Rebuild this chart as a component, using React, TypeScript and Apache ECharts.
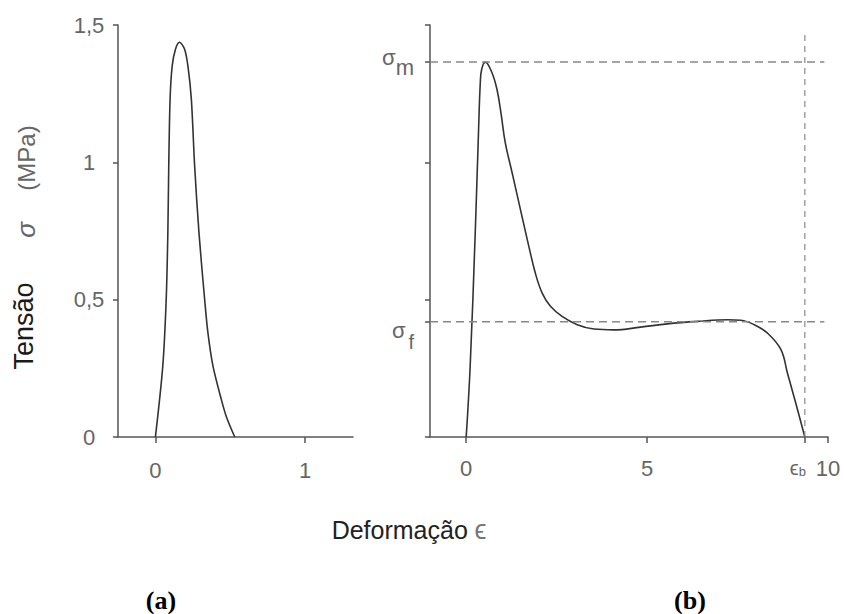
import React, { useEffect, useRef } from "react";
import * as echarts from "echarts";

// Panel (a): stress-strain curve
const A_STRAIN = [0, 0.049, 0.072, 0.083, 0.089, 0.098, 0.112, 0.134, 0.161, 0.195, 0.217, 0.24, 0.262, 0.291, 0.329, 0.351, 0.385, 0.441, 0.474, 0.53];
const A_STRESS = [0, 0.257, 0.5, 0.743, 0.987, 1.23, 1.351, 1.412, 1.437, 1.412, 1.351, 1.23, 0.987, 0.743, 0.5, 0.378, 0.257, 0.135, 0.074, 0];

// Panel (b): stress-strain curve
const B_STRAIN = [0, 0.11, 0.25, 0.34, 0.39, 0.43, 0.53, 0.71, 0.85, 0.96, 1.08, 1.27, 1.5, 1.73, 1.91, 2.1, 2.33, 2.65, 3.07, 3.53, 4.08, 4.82, 5.56, 6.39, 7.22, 7.59, 7.96, 8.33, 8.7, 8.88, 9.11, 9.36];
const B_STRESS = [0, 0.257, 0.743, 1.108, 1.29, 1.34, 1.365, 1.327, 1.266, 1.181, 1.072, 0.962, 0.828, 0.695, 0.597, 0.524, 0.476, 0.439, 0.409, 0.393, 0.39, 0.4, 0.412, 0.421, 0.427, 0.425, 0.409, 0.378, 0.318, 0.232, 0.123, 0];

const SIGMA_M = 1.365;
const SIGMA_F = 0.42;
const EPS_B = 9.36;

const A_X_TICKS = [0, 1];
const B_X_TICKS = [0, 5, EPS_B, 10];

const FONT = "'Liberation Sans', Arial, sans-serif";
const AXIS_COLOR = "#555";
const LABEL_COLOR = "#666";

export default function App() {
  const ref = useRef<HTMLDivElement>(null);
  useEffect(() => {
    if (!ref.current) return;
    const chart = echarts.init(ref.current, null, { renderer: "svg" });
    const axisLine = { show: true, onZero: false, lineStyle: { color: AXIS_COLOR, width: 1.5 } };
    const tickStyle = { color: AXIS_COLOR, width: 1.5 };
    const zip = (xs: number[], ys: number[]) => xs.map((x, i) => [x, ys[i]]);
    chart.setOption({
      animation: false,
      backgroundColor: "#fff",
      grid: [
        { left: 118, top: 25, width: 235, height: 412 },
        { left: 430, top: 25, width: 398, height: 412 },
      ],
      xAxis: [
        {
          gridIndex: 0, type: "value", min: -0.25, max: 1.32,
          splitLine: { show: false }, axisLine,
          axisTick: { customValues: A_X_TICKS, length: 6, lineStyle: tickStyle },
          axisLabel: { customValues: A_X_TICKS, margin: 22, fontSize: 22, color: LABEL_COLOR, fontFamily: FONT },
        },
        {
          gridIndex: 1, type: "value", min: -1, max: 10,
          splitLine: { show: false }, axisLine,
          axisTick: { customValues: B_X_TICKS, length: 6, lineStyle: tickStyle },
          axisLabel: {
            customValues: B_X_TICKS, margin: 20, fontSize: 22, color: LABEL_COLOR, fontFamily: FONT,
            formatter: (v: number) => (Math.abs(v - EPS_B) < 1e-6 ? "{e|ϵ}{b|b}" : String(v)),
            rich: {
              e: { fontSize: 20, color: LABEL_COLOR, fontFamily: FONT },
              b: { fontSize: 13, color: LABEL_COLOR, fontFamily: FONT, padding: [8, 14, 0, 0] },
            },
          },
        },
      ],
      yAxis: [
        {
          gridIndex: 0, type: "value", min: 0, max: 1.5, interval: 0.5,
          splitLine: { show: false }, axisLine,
          axisTick: { show: true, length: 5, lineStyle: tickStyle },
          axisLabel: {
            margin: 29, align: "center", fontSize: 22, color: LABEL_COLOR, fontFamily: FONT,
            formatter: (v: number) => String(v).replace(".", ","),
          },
        },
        {
          gridIndex: 1, type: "value", min: 0, max: 1.5,
          splitLine: { show: false }, axisLine,
          axisTick: { customValues: [0, 0.5, 1, 1.5, SIGMA_F, SIGMA_M], length: 5, lineStyle: tickStyle },
          axisLabel: {
            customValues: [SIGMA_F, SIGMA_M], margin: 16, align: "right", color: LABEL_COLOR, fontFamily: FONT,
            formatter: (v: number) => (Math.abs(v - SIGMA_M) < 1e-6 ? "{s|σ}{m|m}" : "{s2|σ}{f|f}"),
            rich: {
              s: { fontSize: 22, color: LABEL_COLOR, fontFamily: FONT, verticalAlign: "top", padding: [0, 0, 0, 0] },
              m: { fontSize: 22, color: LABEL_COLOR, fontFamily: FONT, verticalAlign: "top", padding: [10, 0, 0, 0] },
              s2: { fontSize: 22, color: LABEL_COLOR, fontFamily: FONT, verticalAlign: "top", padding: [28, 3, 0, 0] },
              f: { fontSize: 20, color: LABEL_COLOR, fontFamily: FONT, verticalAlign: "top", padding: [40, 0, 0, 0] },
            },
          },
        },
      ],
      series: [
        {
          type: "line", xAxisIndex: 0, yAxisIndex: 0, data: zip(A_STRAIN, A_STRESS),
          smooth: 0.3, showSymbol: false, lineStyle: { color: "#333", width: 1.6 },
        },
        {
          type: "line", xAxisIndex: 1, yAxisIndex: 1, data: zip(B_STRAIN, B_STRESS),
          smooth: 0.4, showSymbol: false, lineStyle: { color: "#333", width: 1.6 },
        },
        {
          type: "line", xAxisIndex: 1, yAxisIndex: 1, data: [[-1, SIGMA_M], [9.9, SIGMA_M]],
          showSymbol: false, lineStyle: { color: "#888", width: 1.5, type: [8, 5] },
        },
        {
          type: "line", xAxisIndex: 1, yAxisIndex: 1, data: [[-1, SIGMA_F], [9.9, SIGMA_F]],
          showSymbol: false, lineStyle: { color: "#888", width: 1.5, type: [8, 5] },
        },
        {
          type: "line", xAxisIndex: 1, yAxisIndex: 1, data: [[EPS_B, 0], [EPS_B, 1.475]],
          showSymbol: false, lineStyle: { color: "#888", width: 1.2, type: [6, 5] },
        },
      ],
      graphic: [
        { type: "text", x: 24, y: 326, rotation: Math.PI / 2, style: { text: "Tensão", fontSize: 27, fontFamily: FONT, fill: "#1a1a1a", align: "center", verticalAlign: "middle" } },
        { type: "text", x: 26, y: 230, rotation: Math.PI / 2, style: { text: "σ", fontSize: 26, fontStyle: "italic", fontFamily: FONT, fill: "#666", align: "center", verticalAlign: "middle" } },
        { type: "text", x: 26, y: 158, rotation: Math.PI / 2, style: { text: "(MPa)", fontSize: 24, fontFamily: FONT, fill: "#666", align: "center", verticalAlign: "middle" } },
        { type: "text", x: 409, y: 530, style: { text: "{d|Deformação}  {e|ϵ}", align: "center", verticalAlign: "middle", rich: { d: { fontSize: 25, fontFamily: FONT, fill: "#222" }, e: { fontSize: 27, fontFamily: FONT, fill: "#777" } } } },
        { type: "text", x: 161, y: 600, style: { text: "(a)", fontSize: 26, fontWeight: "bold", fontFamily: "'Liberation Serif', 'Times New Roman', serif", fill: "#000", align: "center", verticalAlign: "middle" } },
        { type: "text", x: 690, y: 600, style: { text: "(b)", fontSize: 26, fontWeight: "bold", fontFamily: "'Liberation Serif', 'Times New Roman', serif", fill: "#000", align: "center", verticalAlign: "middle" } },
      ],
    });
    return () => chart.dispose();
  }, []);
  return <div ref={ref} style={{ position: "fixed", left: 0, top: 0, width: 845, height: 614 }} />;
}
